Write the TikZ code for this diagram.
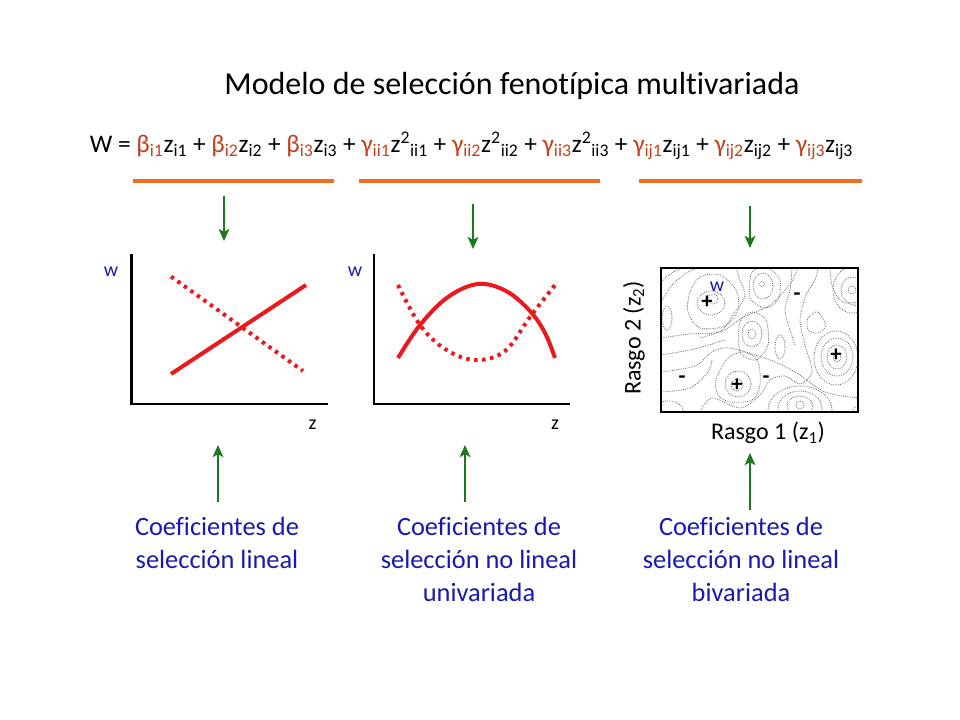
\documentclass[tikz,border=0pt]{standalone}
\usepackage{fontspec}
\setmainfont{Carlito}[Ligatures=NoCommon]
\usetikzlibrary{arrows.meta}
\definecolor{eqred}{RGB}{196,64,28}
\definecolor{barorange}{RGB}{240,110,30}
\definecolor{arrgreen}{RGB}{30,120,30}
\definecolor{curvered}{RGB}{235,25,30}
\definecolor{labblue}{RGB}{25,25,175}
\definecolor{contgray}{RGB}{110,110,110}
\newcommand{\rc}[1]{{\color{eqred}#1}}
\tikzset{
  bar/.style={line width=3pt, barorange},
  garrow/.style={line width=1.1pt, arrgreen, -{Stealth[length=9pt,width=8pt,inset=2pt]}},
  axis/.style={line width=2.2pt, black},
  solidcurve/.style={line width=3pt, curvered},
  dotcurve/.style={line width=3pt, curvered, dash pattern=on 2.6pt off 3.4pt},
  cont/.style={line width=0.6pt, contgray, dash pattern=on 0.6pt off 0.8pt},
  caption/.style={labblue, font=\fontsize{19.8}{24.75}\selectfont, align=center},
  axlab/.style={font=\fontsize{15}{17}\selectfont},
  rlab/.style={font=\fontsize{18}{20}\selectfont},
  sign/.style={font=\fontsize{17}{18}\selectfont\bfseries, inner sep=0pt},
}
\begin{document}
\begin{tikzpicture}[x=0.75pt,y=-0.75pt]
\useasboundingbox (0,0) rectangle (960,720);
\fill[white] (0,0) rectangle (960,720);

% title
\node[font=\fontsize{24}{28}\selectfont] (title) at (512,86) {Modelo de selección fenotípica multivariada};

% equation
\node[font=\fontsize{19}{23}\selectfont, inner sep=0pt] (eq) at (471.5,146)
{W = \rc{β\textsubscript{i1}}z\textsubscript{i1} + \rc{β\textsubscript{i2}}z\textsubscript{i2} + \rc{β\textsubscript{i3}}z\textsubscript{i3} + \rc{γ\textsubscript{ii1}}z\textsuperscript{2}\textsubscript{ii1} + \rc{γ\textsubscript{ii2}}z\textsuperscript{2}\textsubscript{ii2} + \rc{γ\textsubscript{ii3}}z\textsuperscript{2}\textsubscript{ii3} + \rc{γ\textsubscript{ij1}}z\textsubscript{ij1} + \rc{γ\textsubscript{ij2}}z\textsubscript{ij2} + \rc{γ\textsubscript{ij3}}z\textsubscript{ij3}};

% orange bars
\coordinate (b1a) at (133,181); \coordinate (b1b) at (334,181);
\coordinate (b2a) at (359,181); \coordinate (b2b) at (600,181);
\coordinate (b3a) at (639,181); \coordinate (b3b) at (862,181);
\draw[bar] (b1a) -- (b1b);
\draw[bar] (b2a) -- (b2b);
\draw[bar] (b3a) -- (b3b);

% green down arrows
\coordinate (d1s) at (224,196); \coordinate (d1e) at (224,241);
\coordinate (d2s) at (473,204); \coordinate (d2e) at (473,249);
\coordinate (d3s) at (750,206); \coordinate (d3e) at (750,248);
\draw[garrow] (d1s) -- (d1e);
\draw[garrow] (d2s) -- (d2e);
\draw[garrow] (d3s) -- (d3e);

% graph 1
\coordinate (g1top) at (131.5,254); \coordinate (g1o) at (131.5,404); \coordinate (g1r) at (328,404);
\draw[axis] (g1top) -- (g1o) -- (g1r);
\node[axlab, labblue] (w1) at (111,272) {w};
\node[axlab] (z1) at (312.5,425) {z};
\coordinate (s1a) at (171,374); \coordinate (s1b) at (306,285);
\draw[solidcurve] (s1a) -- (s1b);
\coordinate (t1a) at (171,276.5); \coordinate (t1b) at (303,371);
\draw[dotcurve] (t1a) -- (t1b);

% graph 2
\coordinate (g2top) at (374,254); \coordinate (g2o) at (374,404); \coordinate (g2r) at (570,404);
\draw[axis] (g2top) -- (g2o) -- (g2r);
\node[axlab, labblue] (w2) at (355,272) {w};
\node[axlab] (z2) at (555,425) {z};
\draw[solidcurve] plot[smooth, tension=0.6] coordinates {(398,358) (420,325) (448,297) (478,284) (506,291) (530,311) (545,333) (555,358)};
\draw[dotcurve] plot[smooth, tension=0.6] coordinates {(398,285) (420,325) (445,349) (475,360) (505,351) (530,317) (555,285)};

% contour plot
\begin{scope}
\clip (661,268) rectangle (858,412);
% peak A
\draw[cont] (713,299) circle[x radius=5, y radius=5];
\draw[cont] (711,303) ellipse[x radius=14, y radius=12];
\draw[cont] plot[smooth cycle] coordinates {(690,292) (700,277) (720,275) (736,290) (738,310) (725,326) (700,328) (688,312)};
% B
\draw[cont] (762,284) circle[radius=2.5];
\draw[cont] (763,286) ellipse[x radius=10, y radius=13];
\draw[cont] plot[smooth cycle] coordinates {(752,272) (768,268) (780,280) (778,300) (765,308) (750,298)};
% C
\draw[cont] (852,290) ellipse[x radius=4, y radius=4];
\draw[cont] (852,290) ellipse[x radius=11, y radius=13];
\draw[cont] (852,290) ellipse[x radius=19, y radius=23];
% D
\draw[cont] (752,334) ellipse[x radius=4, y radius=5];
\draw[cont] (752,334) ellipse[x radius=10, y radius=13];
\draw[cont] plot[smooth cycle] coordinates {(740,322) (752,312) (766,320) (768,345) (756,360) (740,352)};
% E
\draw[cont] (780,347) ellipse[x radius=5, y radius=12];
% F
\draw[cont] plot[smooth cycle] coordinates {(808,318) (818,312) (826,326) (818,333) (808,330)};
% G
\draw[cont] (837,357) ellipse[x radius=4, y radius=5];
\draw[cont] (837,357) ellipse[x radius=10, y radius=12];
\draw[cont] (837,357) ellipse[x radius=16, y radius=19];
\draw[cont] (836,358) ellipse[x radius=22, y radius=27];
% H
\draw[cont] (737,385) ellipse[x radius=6, y radius=6];
\draw[cont] (738,384) ellipse[x radius=13, y radius=13];
\draw[cont] plot[smooth cycle] coordinates {(716,380) (728,358) (745,352) (758,362) (760,385) (752,400) (730,402) (718,395)};
% I
\draw[cont] (800,405) circle[radius=4];
\draw[cont] (800,406) ellipse[x radius=13, y radius=10];
\draw[cont] (800,408) ellipse[x radius=22, y radius=17];
\draw[cont] (800,410) ellipse[x radius=32, y radius=24];
% J, K
\draw[cont] (667,318) ellipse[x radius=5, y radius=12];
\draw[cont] (668,410) ellipse[x radius=15, y radius=9];
\draw[cont] (856,410) circle[radius=3];
% long wavy lines
\draw[cont] plot[smooth] coordinates {(661,282) (670,274) (682,268)};
\draw[cont] plot[smooth] coordinates {(661,302) (672,285) (688,272) (698,268)};
\draw[cont] plot[smooth] coordinates {(661,338) (690,334) (720,332) (742,318) (770,305) (790,284) (798,268)};
\draw[cont] plot[smooth] coordinates {(661,355) (690,350) (712,344) (725,340)};
\draw[cont] plot[smooth] coordinates {(661,372) (695,366) (712,352) (730,348) (770,360) (795,372) (825,392) (858,398)};
\draw[cont] plot[smooth] coordinates {(661,392) (690,388) (708,372) (712,360)};
\draw[cont] plot[smooth] coordinates {(700,412) (712,398) (740,408) (760,395) (770,380) (785,376) (800,384) (812,372) (805,345) (800,320) (806,295) (815,280) (818,268)};
\draw[cont] plot[smooth] coordinates {(830,268) (832,285) (840,300) (858,306)};
\draw[cont] plot[smooth] coordinates {(792,268) (790,290) (785,310) (790,330) (795,345)};
\draw[cont] plot[smooth] coordinates {(736,268) (740,280) (745,296) (735,312) (722,330) (700,338)};
\end{scope}
\draw[line width=0.8pt] (661,268) rectangle (858,412);
\node[labblue, font=\fontsize{15}{17}\selectfont, inner sep=0pt] (wc) at (717,287) {w};
\node[sign] (p1) at (707,302) {+};
\node[sign] (p2) at (737,385) {+};
\node[sign] (p3) at (836,355) {+};
\node[sign] (m1) at (797,297) {-};
\node[sign] (m2) at (682,380) {-};
\node[sign] (m3) at (766,380) {-};
\node[rlab, rotate=90] (r2) at (634,338) {Rasgo 2 (z\textsubscript{2})};
\node[rlab] (r1) at (768,433) {Rasgo 1 (z\textsubscript{1})};

% green up arrows
\coordinate (u1s) at (218,502); \coordinate (u1e) at (218,445);
\coordinate (u2s) at (465,502); \coordinate (u2e) at (465,445);
\coordinate (u3s) at (750,510); \coordinate (u3e) at (750,453);
\draw[garrow] (u1s) -- (u1e);
\draw[garrow] (u2s) -- (u2e);
\draw[garrow] (u3s) -- (u3e);

% captions
\node[caption, anchor=north] (c1) at (217,512) {Coeficientes de\\selección lineal};
\node[caption, anchor=north] (c2) at (479,512) {Coeficientes de\\selección no lineal\\univariada};
\node[caption, anchor=north] (c3) at (741,512) {Coeficientes de\\selección no lineal\\bivariada};
\end{tikzpicture}
\end{document}
